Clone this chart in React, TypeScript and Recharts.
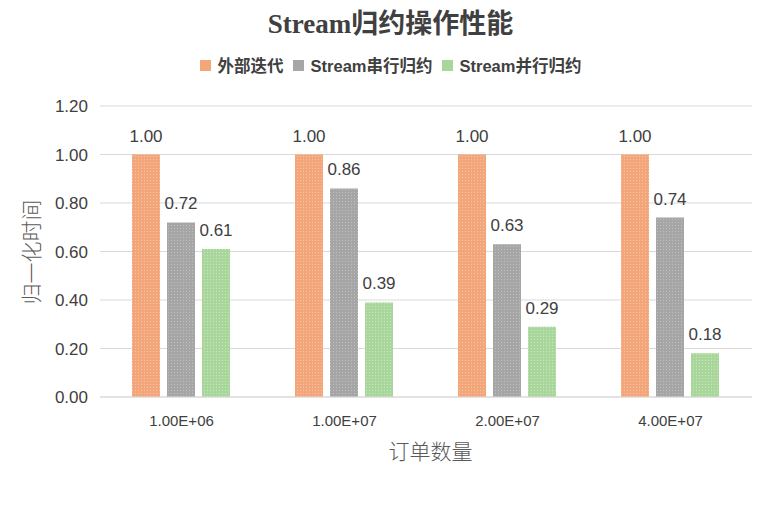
import { BarChart, Bar, XAxis, YAxis, CartesianGrid, LabelList } from 'recharts';

const categories = ['1.00E+06', '1.00E+07', '2.00E+07', '4.00E+07'];
const externalIter = [1.0, 1.0, 1.0, 1.0];
const streamSerial = [0.72, 0.86, 0.63, 0.74];
const streamParallel = [0.61, 0.39, 0.29, 0.18];
const yTicks = [0, 0.2, 0.4, 0.6, 0.8, 1.0, 1.2];

const seriesNames = ['外部迭代', 'Stream串行归约', 'Stream并行归约'];
const seriesColors = ['#F2A679', '#A6A6A6', '#A9D69A'];
const dotColors = ['#F7C3A2', '#BEBEBE', '#C7E6BC'];

const data = categories.map((name, i) => ({
  name,
  a: externalIter[i],
  b: streamSerial[i],
  c: streamParallel[i],
}));

const textColor = '#404040';
const fontFamily = 'Arial, "Liberation Sans", "Noto Sans CJK SC", sans-serif';
const cjkTitleFont = '"Noto Sans CJK SC", sans-serif';

const App = () => {
  return (
    <div style={{ position: 'absolute', left: 0, top: 0, width: 775, height: 505, background: '#fff' }}>
      <div
        style={{
          position: 'absolute',
          top: 2,
          left: 0,
          width: 775,
          textAlign: 'center',
          fontFamily: '"Liberation Serif", "Noto Sans CJK SC", serif',
          fontSize: 27,
          fontWeight: 'bold',
          color: textColor,
          paddingLeft: 6,
          boxSizing: 'border-box',
        }}
      >
        Stream归约操作性能
      </div>
      {/* legend */}
      <div
        style={{
          position: 'absolute',
          top: 53,
          left: 0,
          width: 775,
          display: 'flex',
          justifyContent: 'center',
          gap: 9,
          fontFamily,
          fontWeight: 'bold',
          fontSize: 16.5,
          color: textColor,
          paddingLeft: 6,
          boxSizing: 'border-box',
        }}
      >
        {seriesNames.map((n, i) => (
          <span key={n} style={{ display: 'flex', alignItems: 'center' }}>
            <span style={{ width: 11, height: 11, background: seriesColors[i], display: 'inline-block', marginRight: 7 }} />
            {n}
          </span>
        ))}
      </div>
      <div
        style={{
          position: 'absolute',
          top: 435,
          left: 0,
          width: 775,
          textAlign: 'center',
          paddingLeft: 86,
          boxSizing: 'border-box',
          fontFamily: cjkTitleFont,
          fontWeight: 300,
          fontSize: 21,
          color: '#595959',
        }}
      >
        订单数量
      </div>
      <div
        style={{
          position: 'absolute',
          left: 30,
          top: 252,
          transform: 'translate(-50%, -50%) rotate(-90deg)',
          whiteSpace: 'nowrap',
          fontFamily: cjkTitleFont,
          fontWeight: 300,
          fontSize: 21,
          color: '#595959',
        }}
      >
        归一化时间
      </div>
      <BarChart
        width={775}
        height={505}
        data={data}
        margin={{ top: 106, right: 23, left: 0, bottom: 0 }}
        barCategoryGap={32}
        barGap={7}
      >
        <defs>
          {seriesColors.map((c, i) => (
            <pattern key={i} id={`pat${i}`} width="3" height="3" patternUnits="userSpaceOnUse">
              <rect width="3" height="3" fill={c} />
              <rect width="1" height="1" fill={dotColors[i]} />
            </pattern>
          ))}
        </defs>
        <CartesianGrid vertical={false} stroke="#D9D9D9" />
        <XAxis
          dataKey="name"
          height={108}
          axisLine={{ stroke: '#D9D9D9' }}
          tickLine={false}
          tick={{ fill: textColor, fontSize: 15, fontFamily }}
          tickMargin={12}
        />
        <YAxis
          width={100}
          domain={[0, 1.2]}
          ticks={yTicks}
          axisLine={false}
          tickLine={false}
          tickSize={0}
          tickMargin={12}
          tickFormatter={(v: number) => v.toFixed(2)}
          tick={{ fill: textColor, fontSize: 17, fontFamily }}
        />
        {['a', 'b', 'c'].map((k, i) => (
          <Bar key={k} dataKey={k} name={seriesNames[i]} fill={`url(#pat${i})`} isAnimationActive={false}>
            <LabelList
              dataKey={k}
              position="top"
              offset={13}
              formatter={(v: number) => v.toFixed(2)}
              style={{ fill: textColor, fontSize: 17, fontFamily }}
            />
          </Bar>
        ))}
      </BarChart>
    </div>
  );
};

export default App;
